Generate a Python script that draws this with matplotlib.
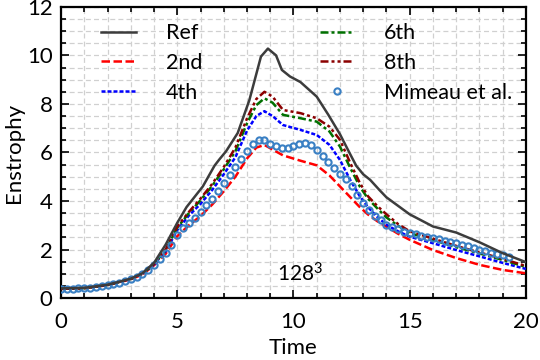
#!/usr/bin/env python3
"""Enstrophy vs time, 128^3 Taylor-Green vortex, scheme order comparison."""

import matplotlib
matplotlib.use("Agg")
import matplotlib.pyplot as plt
from matplotlib.ticker import MultipleLocator

plt.rcParams['font.family'] = ['Lato', 'DejaVu Sans']
plt.rcParams['mathtext.fontset'] = 'custom'
plt.rcParams['mathtext.rm'] = 'Lato'

# Reference solution
t_ref = [0, 1, 2, 2.5, 3, 3.5, 4, 4.5, 5, 5.4, 6.1, 6.6, 6.8, 7.1, 7.6, 8.1, 8.6, 8.9,
         9.25, 9.5, 9.85, 10.3, 11.0, 11.5, 12.0, 12.4, 12.7, 13.0, 13.3, 13.7, 14.0,
         14.5, 15, 16, 17, 18, 19, 20]
ens_ref = [0.40, 0.42, 0.55, 0.67, 0.80, 1.02, 1.45, 2.2, 3.1, 3.75, 4.6, 5.45, 5.7, 6.05,
           6.8, 8.15, 9.95, 10.28, 10.0, 9.4, 9.13, 8.9, 8.3, 7.55, 6.75, 6.0, 5.45, 5.1,
           4.87, 4.45, 4.15, 3.8, 3.45, 2.95, 2.7, 2.3, 1.85, 1.48]

# Simulations (common time samples)
t_sim = [0, 1, 2, 3, 3.5, 4, 4.5, 5, 5.5, 6, 6.5, 7, 7.5, 8, 8.4, 8.75, 9.1, 9.55, 10.3,
         11.0, 11.55, 12.0, 12.45, 12.85, 13.2, 13.6, 14, 14.5, 15, 16, 17, 18, 19, 20]
ens_2nd = [0.38, 0.41, 0.53, 0.77, 0.97, 1.35, 1.82, 2.55, 3.0, 3.38, 3.85, 4.4, 5.0, 5.75,
           6.2, 6.31, 6.12, 5.88, 5.66, 5.47, 5.05, 4.6, 4.15, 3.75, 3.45, 3.17, 2.94,
           2.65, 2.4, 1.98, 1.65, 1.37, 1.16, 1.02]
ens_4th = [0.38, 0.41, 0.54, 0.79, 1.0, 1.39, 1.92, 2.8, 3.4, 3.88, 4.45, 5.1, 5.8, 6.9,
           7.5, 7.7, 7.5, 7.13, 6.93, 6.72, 6.31, 5.69, 4.85, 4.2, 3.75, 3.35, 3.02,
           2.75, 2.53, 2.26, 1.98, 1.72, 1.45, 1.2]
ens_6th = [0.38, 0.41, 0.54, 0.79, 1.0, 1.41, 1.97, 2.9, 3.5, 4.03, 4.62, 5.3, 6.05, 7.2,
           7.95, 8.23, 8.05, 7.55, 7.41, 7.27, 6.86, 6.24, 5.35, 4.6, 4.1, 3.7, 3.32,
           2.98, 2.68, 2.39, 2.1, 1.84, 1.57, 1.28]
ens_8th = [0.38, 0.41, 0.54, 0.79, 1.0, 1.42, 2.0, 2.95, 3.55, 4.1, 4.7, 5.4, 6.2, 7.4,
           8.2, 8.5, 8.3, 7.75, 7.62, 7.41, 7.06, 6.52, 5.55, 4.75, 4.2, 3.8, 3.45,
           3.05, 2.75, 2.45, 2.15, 1.88, 1.62, 1.32]

# Mimeau et al. data
t_mim = [0.0, 0.25, 0.5, 0.75, 1.0, 1.25, 1.5, 1.75, 2.0, 2.25, 2.5, 2.75, 3.0, 3.25,
         3.5, 3.75, 4.0, 4.25, 4.5, 4.75, 5.0, 5.25, 5.5, 5.75, 6.0, 6.25, 6.5, 6.75,
         7.0, 7.25, 7.5, 7.75, 8.0, 8.25, 8.5, 8.75, 9.0, 9.25, 9.5, 9.75, 10.0, 10.25,
         10.5, 10.75, 11.0, 11.25, 11.5, 11.75, 12.0, 12.25, 12.5, 12.75, 13.0, 13.25,
         13.5, 13.75, 14.0, 14.25, 14.5, 14.75, 15.0, 15.25, 15.5, 15.75, 16.0, 16.25,
         16.5, 16.75, 17.0, 17.25, 17.5, 17.75, 18.0, 18.25, 18.5, 18.75, 19.0, 19.25]
ens_mim = [0.36, 0.37, 0.38, 0.40, 0.41, 0.43, 0.46, 0.50, 0.54, 0.58, 0.64, 0.71, 0.79,
           0.88, 1.0, 1.17, 1.38, 1.6, 1.85, 2.2, 2.6, 2.88, 3.1, 3.32, 3.55, 3.82, 4.1,
           4.42, 4.75, 5.08, 5.4, 5.75, 6.08, 6.35, 6.5, 6.5, 6.36, 6.25, 6.18, 6.18,
           6.27, 6.36, 6.37, 6.3, 6.1, 5.86, 5.62, 5.38, 5.13, 4.9, 4.62, 4.25, 3.9,
           3.62, 3.4, 3.2, 3.03, 2.92, 2.83, 2.74, 2.67, 2.62, 2.57, 2.52, 2.47, 2.42,
           2.37, 2.31, 2.26, 2.2, 2.13, 2.05, 1.98, 1.93, 1.87, 1.81, 1.76, 1.7]

fig = plt.figure(figsize=(5.4, 3.6), dpi=100)
ax = fig.add_axes([0.113, 0.172, 0.861, 0.809])

lw = 1.8
ax.plot(t_ref, ens_ref, color='#3c3c3c', lw=lw, label='Ref', zorder=6)
ax.plot(t_sim, ens_2nd, color='#ff0000', lw=lw, ls=(0, (3.4, 1.4)), label='2nd', zorder=3)
ax.plot(t_sim, ens_4th, color='#0000ff', lw=lw, ls=(0, (1.6, 0.8)), label='4th', zorder=4)
ax.plot(t_sim, ens_6th, color='#007000', lw=lw, ls=(0, (3.2, 1.2, 1.2, 1.2)),
        label='6th', zorder=4)
ax.plot(t_sim, ens_8th, color='#8b0000', lw=lw, ls=(0, (3.2, 1.2, 1.2, 1.2, 1.2, 1.2)),
        label='8th', zorder=4)
ax.plot(t_mim, ens_mim, ls='none', marker='o', ms=4.5, mfc='none', mec='#3a80c4',
        mew=1.5, label='Mimeau et al.', zorder=5)

ax.set_xlim(0, 20)
ax.set_ylim(0, 12)
ax.xaxis.set_major_locator(MultipleLocator(5))
ax.xaxis.set_minor_locator(MultipleLocator(1))
ax.yaxis.set_major_locator(MultipleLocator(2))
ax.yaxis.set_minor_locator(MultipleLocator(0.5))
ax.grid(True, which='both', color='#d0d0d0', lw=0.9, ls=(0, (4, 2.5)), zorder=0)
ax.tick_params(which='both', direction='in', top=True, right=True, labelsize=16,
               width=1.2)
ax.tick_params(which='major', length=6, pad=6)
ax.tick_params(axis='x', which='major', pad=10)
ax.tick_params(which='minor', length=3.5)
for sp in ax.spines.values():
    sp.set_linewidth(1.6)

ax.set_xlabel('Time', fontsize=16, labelpad=4)
ax.set_ylabel('Enstrophy', fontsize=16, labelpad=2)
ax.text(9.3, 0.7, r'$\mathregular{128^3}$', fontsize=15)

ax.legend(loc='upper left', bbox_to_anchor=(0.045, 1.01), ncol=2, frameon=False,
          fontsize=15.5, handlelength=1.6, handletextpad=1.4, columnspacing=5.45,
          labelspacing=0.45, numpoints=1)

fig.savefig('out.png', dpi=100)
